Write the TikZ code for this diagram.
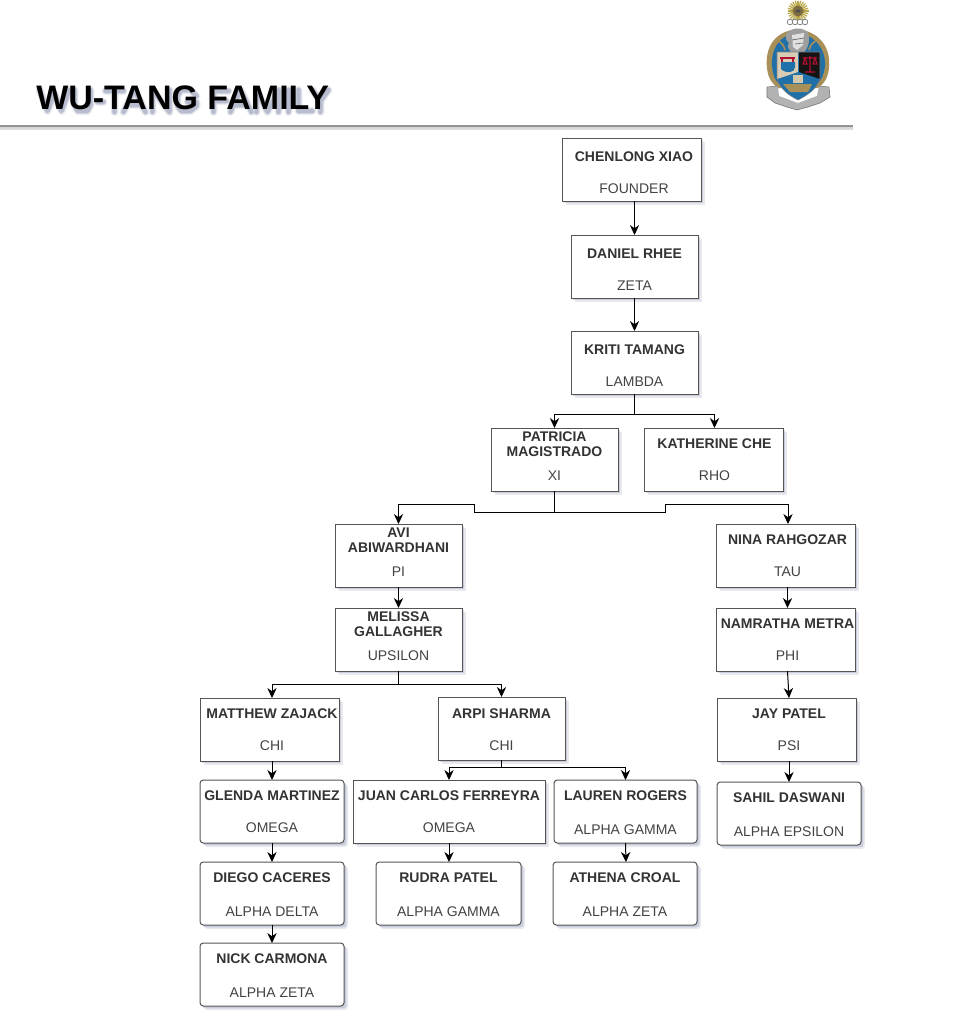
\documentclass[tikz,border=0pt]{standalone}
\usepackage{fontspec}
\setmainfont{Liberation Sans}
\usetikzlibrary{arrows.meta,calc}
\definecolor{boxline}{HTML}{555555}
\definecolor{txt}{HTML}{333333}
\definecolor{shade}{HTML}{8088A8}
\definecolor{gold}{HTML}{A89058}
\definecolor{crestblue}{HTML}{1F6FA8}
\definecolor{crestred}{HTML}{B01030}
\tikzset{
  x=0.75pt,y=-0.75pt,
  softshadow/.style={preaction={fill=shade,opacity=.18,transform canvas={shift={(3pt,-3pt)}}},
                     preaction={fill=shade,opacity=.30,transform canvas={shift={(1.8pt,-1.8pt)}}}},
  pbox/.style={draw=boxline,line width=.75pt,fill=white,inner sep=0pt,outer sep=0pt,softshadow},
  rbox/.style={pbox,rounded corners=2.5pt},
  ttl/.style={font=\bfseries\fontsize{10.5}{11.25}\selectfont,text=txt,align=center,inner sep=0pt},
  sub/.style={font=\fontsize{10.5}{11.25}\selectfont,text=txt!92!white,inner sep=0pt},
  link/.style={draw=black,line width=.75pt,-{Stealth[length=7.5pt,width=7pt]}},
}
\def\Dx{0}
\newcommand{\Person}[9]{%
  \pgfmathsetmacro{\pw}{(#3-#2)*0.75}%
  \pgfmathsetmacro{\ph}{(#5-#4)*0.75}%
  \node[#9,minimum width=\pw pt,minimum height=\ph pt] (#1) at ({(#2+#3)/2},{(#4+#5)/2}) {};%
  \node[ttl] (#1-t) at ({(#2+#3)/2+\Dx},#7+1) {#6};%
  \node[sub] (#1-s) at ({(#2+#3)/2+\Dx},#8+1) {\PersonSub};%
  \gdef\Dx{0}%
}
\newcommand{\HeadingStrokes}{%
  (37,87)--(45,108)--(52,90)--(59,108)--(67,87)
  (72,87)--(72,102)--(75,108)--(85,108)--(88,102)--(88,87)
  (95,99)--(101,99)
  (103,88)--(121,88) (112,88)--(112,109)
  (121,109)--(132,87)--(143,109) (126,102)--(138,102)
  (150,109)--(150,87)--(167,109)--(167,87)
  (194,93)--(188,87)--(179,87)--(175,93)--(175,103)--(179,108)--(188,108)--(194,103)--(194,99)--(185,99)
  (211,109)--(211,88)--(226,88) (211,98)--(224,98)
  (228,109)--(238,87)--(249,109) (232,102)--(245,102)
  (254,109)--(254,87)--(265,109)--(276,87)--(276,109)
  (286,87)--(286,109)
  (296,87)--(296,108)--(310,108)
  (310,87)--(318,98)--(326,87) (318,98)--(318,109)
}
\begin{document}
\begin{tikzpicture}
\useasboundingbox (0,0) rectangle (971,1018);
\fill[white] (0,0) rectangle (971,1018);

% soft shadow of the heading, drawn as strokes
\begin{scope}[shift={(2.5,3)},draw=shade,line cap=round,line join=round]
  \draw[line width=6pt,opacity=.12] \HeadingStrokes;
  \draw[line width=4.5pt,opacity=.22] \HeadingStrokes;
  \draw[line width=3.2pt,opacity=.35] \HeadingStrokes;
\end{scope}
\node[font=\bfseries\fontsize{25.5}{27}\selectfont,text=black,anchor=west,inner sep=0pt] (heading) at (36,98) {WU-TANG FAMILY};
\fill[shade,opacity=.12] (0,127) rectangle (853,130);
\draw[draw=black!42,line width=.8pt] (0,126) -- (853,126);

% crest
\foreach \a in {0,15,...,345}{\draw[gold!80!yellow,line width=.9pt] (798,11) -- ++(\a:10.5);}
\fill[gold!75!black] (798,11) circle (5.5);
\fill[black!70] (798,11) ellipse (2.5 and 1.5);
\foreach \i in {790,795,800,805}{\draw[black!55,fill=white,line width=.5pt] (\i,22) circle (2.8);}
% mantling
\fill[gold] (797,29) .. controls (772,32) and (765,50) .. (767,68) .. controls (768,78) and (772,84) .. (778,88) -- (818,88) .. controls (824,84) and (828,78) .. (829,68) .. controls (831,50) and (822,32) .. (797,29) -- cycle;
\fill[crestblue] (797,32) .. controls (778,36) and (771,50) .. (772,66) .. controls (773,76) and (776,82) .. (780,85) -- (816,85) .. controls (820,82) and (824,76) .. (825,66) .. controls (826,50) and (816,36) .. (797,32) -- cycle;
\draw[gold,line width=1.2pt] (776,40) .. controls (782,42) and (784,46) .. (785,50);
\draw[gold,line width=1.2pt] (818,40) .. controls (812,42) and (810,46) .. (809,50);
% helmet
\fill[black!38] (787,33) .. controls (792,27) and (804,27) .. (808,33) .. controls (811,42) and (807,50) .. (803,53) -- (792,53) .. controls (789,50) and (786,46) .. (789,43) .. controls (785,40) and (785,36) .. (787,33) -- cycle;
\fill[white!88!black] (792,35) -- (804,33) -- (803,45) -- (797,50) -- (793,47) -- cycle;
\draw[black!60,line width=.5pt] (792,40) -- (804,38) (795,44) -- (803,43);
% ribbon
\fill[black!30] (778,86) -- (767,87) -- (767,97) -- (775,103) -- (787,107) -- (797,110) -- (808,107) -- (820,103) -- (830,97) -- (829,87) -- (819,86) -- (817,96) -- (798,103) -- (779,96) -- cycle;
\draw[black!55,line width=.4pt] (778,86) -- (767,87) -- (767,97) -- (775,103) -- (787,107) -- (797,110) -- (808,107) -- (820,103) -- (830,97) -- (829,87) -- (819,86);
% shield
\fill[crestblue] (777,52) -- (820,52) -- (820,78) .. controls (818,88) and (808,95) .. (798,100) .. controls (788,95) and (779,88) .. (777,78) -- cycle;
\fill[gold!45!white] (777,52) -- (798,52) -- (798,72) -- (777,79) -- cycle;
\fill[black!92] (799,52) -- (820,52) -- (820,79) -- (799,72) -- cycle;
\fill[crestblue] (781,62) -- (795,62) -- (795,67) .. controls (795,73) and (786,74) .. (781,69) -- cycle;
\draw[crestred,line width=1.1pt] (780,58) -- (795,58) (782,58) -- (782,62) (793,58) -- (793,62);
\draw[crestred,line width=.9pt] (803,58) -- (817,58) (810,56) -- (810,72) (805,72) -- (815,72) (805,58) -- (803,64) -- (807,64) -- cycle (815,58) -- (813,64) -- (817,64) -- cycle;
\fill[gold] (783,84) -- (812,84) -- (808,92) -- (790,92) -- cycle;
\fill[gold!50!white] (793,75) rectangle (803,83);
\draw[black!50,line width=.4pt] (777,52) -- (820,52) -- (820,78) .. controls (818,88) and (808,95) .. (798,100) .. controls (788,95) and (779,88) .. (777,78) -- cycle;

% people
\def\PersonSub{FOUNDER}\def\Dx{2.5}\Person{a}{562}{701}{138}{201}{CHENLONG XIAO}{156}{188}{pbox}
\def\PersonSub{ZETA}\Person{b}{571}{698}{235}{298}{DANIEL RHEE}{253}{285}{pbox}
\def\PersonSub{LAMBDA}\Person{c}{571}{698}{331}{394}{KRITI TAMANG}{349}{381}{pbox}
\def\PersonSub{XI}\Person{d}{491}{618}{428}{491}{PATRICIA\\MAGISTRADO}{443.5}{475}{pbox}
\def\PersonSub{RHO}\def\Dx{1}\Person{e}{644}{783}{428}{491}{KATHERINE CHE}{443}{475}{pbox}
\def\PersonSub{PI}\Person{f}{335}{462}{524}{587}{AVI\\ABIWARDHANI}{539.5}{571}{pbox}
\def\PersonSub{TAU}\def\Dx{2}\Person{g}{716}{855}{524}{587}{NINA RAHGOZAR}{539}{571}{pbox}
\def\PersonSub{UPSILON}\Person{h}{335}{462}{608}{671}{MELISSA\\GALLAGHER}{623.5}{655}{pbox}
\def\PersonSub{PHI}\def\Dx{2}\Person{i}{716}{855}{608}{671}{NAMRATHA METRA}{623}{655}{pbox}
\def\PersonSub{CHI}\def\Dx{2.5}\Person{j}{200}{339}{698}{761}{MATTHEW ZAJACK}{713}{745}{pbox}
\def\PersonSub{CHI}\Person{k}{438}{565}{697}{760}{ARPI SHARMA}{713}{745}{pbox}
\def\PersonSub{PSI}\def\Dx{2.5}\Person{l}{717}{856}{698}{761}{JAY PATEL}{713}{745}{pbox}
\def\PersonSub{OMEGA}\Person{m}{200}{344}{780}{843}{GLENDA MARTINEZ}{795}{827}{rbox}
\def\PersonSub{OMEGA}\Person{n}{353}{545}{780}{843}{JUAN CARLOS FERREYRA}{795}{827}{pbox}
\def\PersonSub{ALPHA GAMMA}\Person{o}{554}{697}{780}{843}{LAUREN ROGERS}{795}{829}{rbox}
\def\PersonSub{ALPHA EPSILON}\Person{p}{717}{861}{782}{845}{SAHIL DASWANI}{797}{831}{rbox}
\def\PersonSub{ALPHA DELTA}\Person{q}{200}{344}{862}{925}{DIEGO CACERES}{877}{911}{rbox}
\def\PersonSub{ALPHA GAMMA}\Person{r}{376}{521}{862}{925}{RUDRA PATEL}{877}{911}{rbox}
\def\PersonSub{ALPHA ZETA}\Person{s}{553}{697}{862}{925}{ATHENA CROAL}{877}{911}{rbox}
\def\PersonSub{ALPHA ZETA}\Person{u}{200}{344}{943}{1006}{NICK CARMONA}{958}{992}{rbox}

% connectors
\draw[link] ($(a.south)+(3,0)$) -- (b.north);
\draw[link] (b.south) -- (c.north);
\draw[link] (c.south) -- ++(0,20) -| (d.north);
\draw[link] (c.south) -- ++(0,20) -| ($(e.north)+(1,0)$);
\draw[link] (d.south) -- ++(0,21) -- ++(-80,0) -- ++(0,-8) -| (f.north);
\draw[link] (d.south) -- ++(0,21) -- ++(111,0) -- ++(0,-8) -| ($(g.north)+(2.5,0)$);
\draw[link] (f.south) -- (h.north);
\draw[link] ($(g.south)+(2,0)$) -- ($(i.north)+(2,0)$);
\draw[link] ($(i.south)+(2,0)$) -- ($(l.north)+(2.5,0)$);
\draw[link] (h.south) -- ++(0,13) -| ($(j.north)+(2.5,0)$);
\draw[link] (h.south) -- ++(0,13) -| (k.north);
\draw[link] ($(j.south)+(2.5,0)$) -- (m.north);
\draw[link] (k.south) -- ++(0,7) -| (n.north);
\draw[link] (k.south) -- ++(0,7) -| (o.north);
\draw[link] ($(l.south)+(2.5,0)$) -- (p.north);
\draw[link] (m.south) -- (q.north);
\draw[link] (n.south) -- ($(r.north)+(.5,0)$);
\draw[link] (o.south) -- ($(s.north)+(1,0)$);
\draw[link] (q.south) -- (u.north);
\end{tikzpicture}
\end{document}
